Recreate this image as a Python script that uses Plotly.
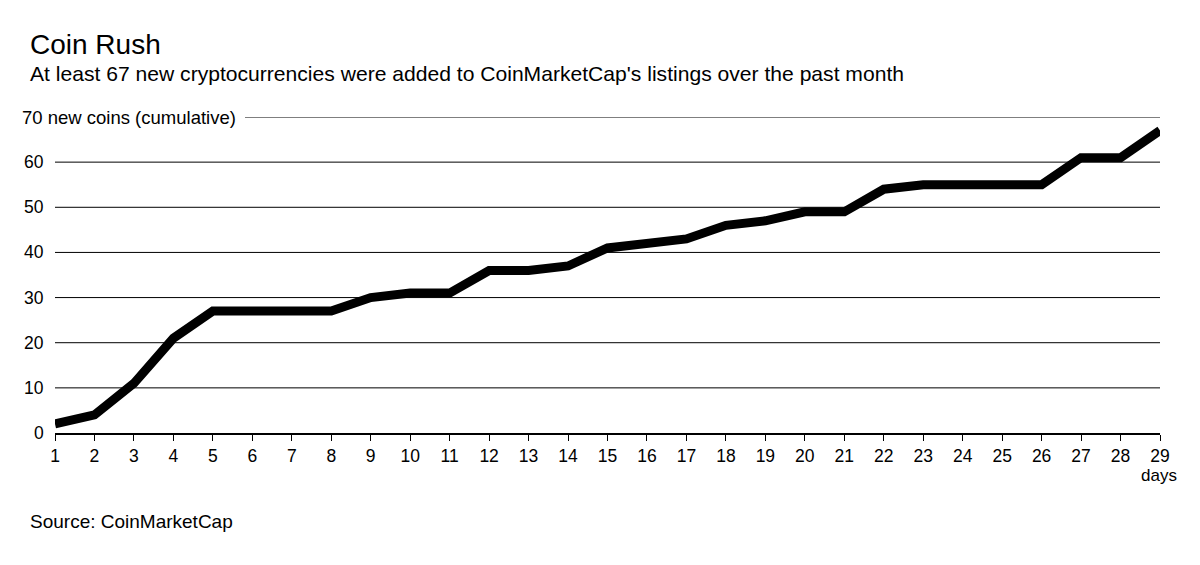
import plotly.graph_objects as go

days = list(range(1, 30))
coins = [2, 4, 11, 21, 27, 27, 27, 27, 30, 31, 31, 36, 36, 37, 41, 42, 43, 46, 47, 49,
         49, 54, 55, 55, 55, 55, 61, 61, 67]
y_ticks = [0, 10, 20, 30, 40, 50, 60]
y_top_label = "70 new coins (cumulative)"

FONT = "Liberation Sans"
OFF = 8  # page body margin
W, H = 1200, 565
L, T = 55 - OFF, 117 - OFF
R = W - (1160 - OFF)
B = H - (433 - OFF)
pw = W - L - R
ph = H - T - B


def xp(px):
    return (px - OFF - L) / pw


def yp(px):
    return (H - B - (px - OFF)) / ph


fig = go.Figure()
fig.add_trace(go.Scatter(x=days, y=coins, mode="lines",
                         line=dict(color="black", width=9),
                         hoverinfo="x+y"))

fig.update_layout(
    width=W, height=H,
    margin=dict(l=L, r=R, t=T, b=B),
    paper_bgcolor="white", plot_bgcolor="white",
    showlegend=False,
    font=dict(family=FONT, color="black", size=17),
    xaxis=dict(range=[1, 29], tickvals=days, ticks="outside", ticklen=6,
               tickcolor="black", showline=True, linecolor="black", linewidth=1.5,
               showgrid=False, zeroline=False, tickfont=dict(size=17.5, family=FONT)),
    yaxis=dict(range=[0, 70], tickvals=y_ticks + [70], showticklabels=False,
               showgrid=False, zeroline=False, showline=False),
)

# gridlines
for v in y_ticks[1:]:
    fig.add_shape(type="line", xref="paper", yref="y", x0=0, x1=1, y0=v, y1=v,
                  line=dict(color="black", width=1), layer="below")
fig.add_shape(type="line", xref="paper", yref="y", x0=xp(245), x1=1, y0=70, y1=70,
              line=dict(color="black", width=1), layer="below")

# y labels
for v in y_ticks:
    fig.add_annotation(x=xp(46), xref="paper", y=v, yref="y", text=str(v),
                       showarrow=False, xanchor="right", yanchor="middle",
                       font=dict(size=17.5, family=FONT))
fig.add_annotation(x=xp(20), xref="paper", y=70, yref="y", text=y_top_label,
                   showarrow=False, xanchor="left", yanchor="middle",
                   font=dict(size=18.5, family=FONT))

# days label
fig.add_annotation(x=xp(1179), xref="paper", y=yp(475), yref="paper",
                   text="days", showarrow=False, xanchor="right", yanchor="middle",
                   font=dict(size=17, family=FONT))

# title, subtitle, source
fig.add_annotation(x=xp(28), xref="paper", y=yp(45), yref="paper", text="Coin Rush",
                   showarrow=False, xanchor="left", yanchor="middle",
                   font=dict(size=28, family=FONT))
fig.add_annotation(x=xp(28), xref="paper", y=yp(74), yref="paper",
                   text="At least 67 new cryptocurrencies were added to CoinMarketCap's listings over the past month",
                   showarrow=False, xanchor="left", yanchor="middle",
                   font=dict(size=21.1, family=FONT))
fig.add_annotation(x=xp(28), xref="paper", y=yp(521), yref="paper",
                   text="Source: CoinMarketCap",
                   showarrow=False, xanchor="left", yanchor="middle",
                   font=dict(size=19, family=FONT))

fig.write_html("out.html")
